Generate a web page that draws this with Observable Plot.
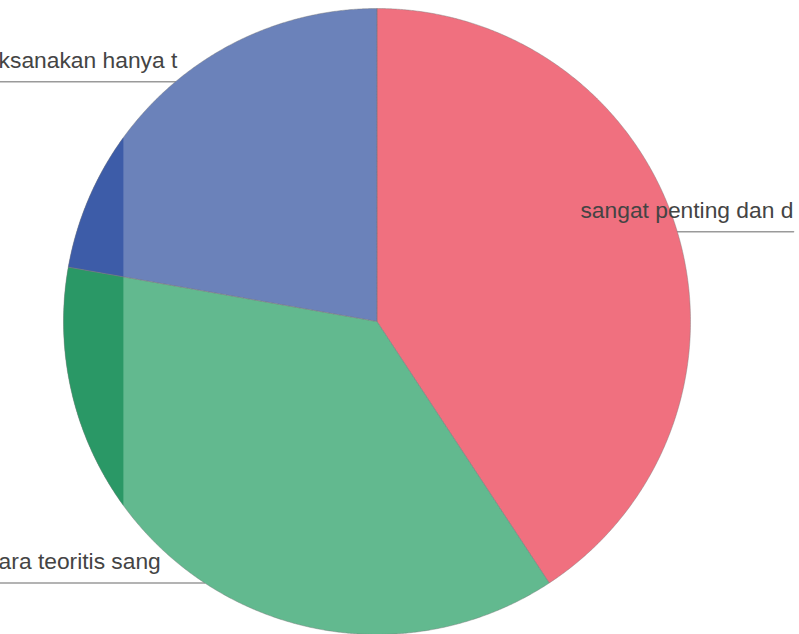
<!DOCTYPE html>
<html><head><meta charset="utf-8">
<script src="https://cdn.jsdelivr.net/npm/d3@7"></script>
<script src="https://cdn.jsdelivr.net/npm/@observablehq/plot@0.6"></script>
<style>html,body{margin:0;padding:0;background:#fff;overflow:hidden}</style>
</head><body><div id="chart"></div>
<script>
// ---- data ----
const labels = ["sangat penting dan d", "ara teoritis sang", "ksanakan hanya t"];
const counts = [11, 10, 6];

// ---- styles / layout ----
const sliceColors = ["#f0707f", "#62b98f", "#6b82ba"];
const stripColors = ["#e25a6e", "#2a9866", "#3d5ca8"];
const stripCut = -0.809;          // scanned darker strip on the left (data units)
const rightTextX = 0.649, leftTextX = -1.207;
const rightLineEnd = 1.329, leftLineEnd = -1.3;

const rows = labels.map((label, i) => ({label, count: counts[i], i}));
const arcs = d3.pie().sort(null).value(d => d.count)(rows);

// slice outlines built from pie angles (radii sampled too, so clipping stays exact)
const slices = arcs.map(a => {
  const pts = [];
  const m = 200;
  for (let k = 0; k < m; ++k) {
    const r = k / m;
    pts.push({x: r * Math.sin(a.startAngle), y: r * Math.cos(a.startAngle)});
  }
  const n = Math.max(2, Math.ceil((a.endAngle - a.startAngle) / 0.005));
  for (let k = 0; k <= n; ++k) {
    const t = a.startAngle + (a.endAngle - a.startAngle) * k / n;
    pts.push({x: Math.sin(t), y: Math.cos(t)});
  }
  for (let k = m - 1; k > 0; --k) {
    const r = k / m;
    pts.push({x: r * Math.sin(a.endAngle), y: r * Math.cos(a.endAngle)});
  }
  return {label: a.data.label, i: a.data.i, pts};
});

const leaders = [], texts = [];
for (const a of arcs) {
  const mid = (a.startAngle + a.endAngle) / 2;
  const x0 = Math.sin(mid), y0 = Math.cos(mid);
  const right = x0 >= 0;
  leaders.push({label: a.data.label, x: x0, y: y0});
  leaders.push({label: a.data.label, x: right ? rightLineEnd : leftLineEnd, y: y0});
  texts.push({label: a.data.label, x: right ? rightTextX : leftTextX, y: y0});
}

const marks = [
  Plot.line(leaders, {x: "x", y: "y", z: "label", stroke: "#9a9a9a", strokeWidth: 1.3})
];
for (const s of slices) {
  marks.push(Plot.line(s.pts, {x: "x", y: "y", fill: sliceColors[s.i], stroke: "none", curve: "linear-closed"}));
}
for (const s of slices) {
  marks.push(Plot.line(s.pts, {x: d => Math.min(d.x, stripCut), y: "y", fill: stripColors[s.i], stroke: "none", curve: "linear-closed"}));
}
for (const s of slices) {
  marks.push(Plot.line(s.pts, {x: "x", y: "y", fill: "none", stroke: "#7a7a7a", strokeOpacity: 0.55, strokeWidth: 0.8, curve: "linear-closed"}));
}
marks.push(Plot.text(texts, {x: "x", y: "y", text: "label", textAnchor: "start", lineAnchor: "middle", dy: -21,
  fill: "#444", fontSize: 22.8, fontFamily: "Arial, 'Liberation Sans', sans-serif"}));

const chart = Plot.plot({
  width: 799, height: 634,
  margin: 0,
  x: {domain: [-1, 1], range: [63, 690], axis: null},
  y: {domain: [-1, 1], range: [634, 8], axis: null},
  style: {background: "#fff", overflow: "hidden"},
  marks
});
document.getElementById("chart").appendChild(chart);
</script>
</body></html>
